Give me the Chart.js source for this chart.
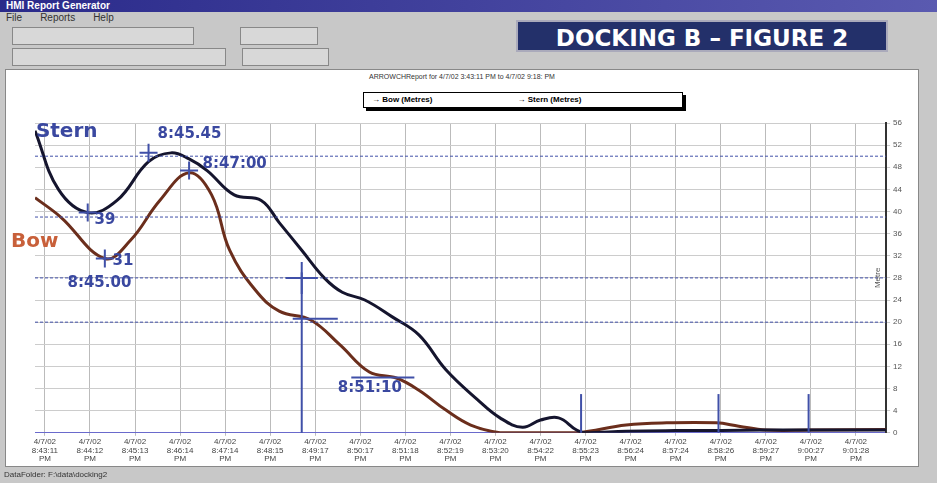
<!DOCTYPE html>
<html>
<head>
<meta charset="utf-8">
<script src="https://cdn.jsdelivr.net/npm/chart.js@4"></script>
<style>
  body { margin: 0; width: 937px; height: 483px; background: #c8c8c8; font-family: "Liberation Sans", Arial, sans-serif; overflow: hidden; position: relative; }
  #titlebar { position: absolute; left: 0; top: 0; width: 937px; height: 12px; background: linear-gradient(90deg, #2a2a8a, #5a5ab0); color: #fff; font-size: 10px; font-weight: bold; line-height: 12px; padding-left: 6px; box-sizing: border-box; }
  #menu { position: absolute; left: 0; top: 12px; width: 937px; height: 12px; font-size: 10px; color: #333; padding-left: 6px; }
  #menu span { margin-right: 18px; }
  #banner { position: absolute; left: 516px; top: 20px; width: 372px; height: 32px; background: #23306a; color: #fff; font-weight: bold; font-size: 23px; line-height: 32px; text-align: center; font-family: "DejaVu Sans", sans-serif; border: 2px solid #aab; box-sizing: border-box; }
  .tb { position: absolute; height: 16px; background: #d8d8d8; border: 1px solid #888; }
  #panel { position: absolute; left: 5px; top: 69px; width: 912px; height: 396px; background: #fff; border: 1px solid #888; }
  #sub { position: absolute; left: 0; top: 3px; width: 912px; text-align: center; font-size: 7px; color: #333; }
  #legend { position: absolute; left: 357px; top: 22px; width: 318px; height: 14px; border: 1px solid #000; box-shadow: 3px 3px 0 #000; font-size: 8px; font-weight: bold; line-height: 14px; background: #fff; }
  #status { position: absolute; left: 4px; top: 470px; font-size: 8px; color: #333; }
  #chart { position: absolute; left: 0; top: 0; }
</style>
</head>
<body>
<div id="titlebar">HMI Report Generator</div>
<div id="menu"><span>File</span><span>Reports</span><span>Help</span></div>
<div class="tb" style="left:12px;top:27px;width:180px"></div>
<div class="tb" style="left:240px;top:27px;width:76px"></div>
<div class="tb" style="left:12px;top:48px;width:212px"></div>
<div class="tb" style="left:242px;top:48px;width:85px"></div>
<div id="banner">DOCKING B – FIGURE 2</div>
<div id="panel">
  <div id="sub">ARROWCHReport for 4/7/02 3:43:11 PM to 4/7/02 9:18: PM</div>
  <div id="legend"><span style="margin-left:8px">→ Bow (Metres)</span><span style="margin-left:85px">→ Stern (Metres)</span></div>
</div>
<canvas id="chart" width="937" height="483"></canvas>
<div id="status">DataFolder: F:\data\docking2</div>
<script>
const tickDates = ["4/7/02"];
const tickTimes = ["8:43:11","8:44:12","8:45:13","8:46:14","8:47:14","8:48:15","8:49:17","8:50:17","8:51:18","8:52:19","8:53:20","8:54:22","8:55:23","8:56:24","8:57:24","8:58:26","8:59:27","9:00:27","9:01:28"];

// x = position in label intervals (0 = 8:43:11), y = metres
const sternX = [-0.22,0.3,0.95,1.6,2.3,2.8,3.2,3.6,4.2,4.8,5.2,5.7,6.2,6.6,7.1,7.7,8.3,8.9,9.6,10.1,10.6,11.0,11.4,11.8,12.0,12.9,14,15,16,17,18.67];
const sternY = [54.6,44,39.8,42,49,50.6,49.5,47.4,43,42,38,33,28,25.4,24,21,17.7,11.4,6,2.7,1,2.3,2.7,0.5,0,0.3,0.4,0.4,0.5,0.5,0.5];
const bowX = [-0.22,0.35,1.33,1.9,2.55,3.2,3.7,4.1,4.67,5.2,5.9,6.55,7.2,7.8,8.3,8.9,9.45,10.1,10.7,11.8,12.9,13.8,14.9,15.4,16,17,18.67];
const bowY = [42.5,39,31.5,34.8,42,47,43,33,25.8,22,20.4,15.9,11,9.9,7.7,4.1,1.4,0,0,0,1.4,1.8,1.8,1.2,0.5,0.5,0.6];

const hLines = [50, 39, 28, 20];
const vFull = [5.7];
const vShort = [11.9, 14.95, 16.95];
const crosses = [[0.95,39.8],[1.33,31.5],[2.3,50.6],[3.2,47.4],[5.7,28]];
const notes = [["Stern",-0.2,54.5,20],["Bow",-0.75,34.5,20],["8:45.45",2.5,54,15],["8:47:00",3.5,48.5,15],["39",1.1,38.5,15],["31",1.5,31,15],["8:45.00",0.5,27,15],["8:51:10",6.5,8,15]];

const pts = (xs, ys) => xs.map((x, i) => ({ x: x, y: ys[i] }));

const marks = {
  id: "marks",
  afterDatasetsDraw(chart) {
    const { ctx, scales: { x, y }, chartArea: a } = chart;
    ctx.save();
    ctx.strokeStyle = "#4050a8";
    ctx.setLineDash([3, 2]);
    ctx.lineWidth = 1;
    hLines.forEach(v => { ctx.beginPath(); ctx.moveTo(a.left, y.getPixelForValue(v)); ctx.lineTo(a.right, y.getPixelForValue(v)); ctx.stroke(); });
    ctx.setLineDash([]);
    ctx.lineWidth = 2;
    vFull.forEach(v => { ctx.beginPath(); ctx.moveTo(x.getPixelForValue(v), y.getPixelForValue(29)); ctx.lineTo(x.getPixelForValue(v), a.bottom); ctx.stroke(); });
    vShort.forEach(v => { ctx.beginPath(); ctx.moveTo(x.getPixelForValue(v), y.getPixelForValue(7)); ctx.lineTo(x.getPixelForValue(v), a.bottom); ctx.stroke(); });
    crosses.forEach(([cx, cy], i) => {
      const px = x.getPixelForValue(cx), py = y.getPixelForValue(cy), r = i === 4 ? 16 : 9;
      ctx.beginPath(); ctx.moveTo(px - r, py); ctx.lineTo(px + r, py); ctx.moveTo(px, py - r); ctx.lineTo(px, py + r); ctx.stroke();
    });
    ctx.beginPath(); ctx.moveTo(x.getPixelForValue(5.5), y.getPixelForValue(20.6)); ctx.lineTo(x.getPixelForValue(6.5), y.getPixelForValue(20.6)); ctx.stroke();
    ctx.beginPath(); ctx.moveTo(x.getPixelForValue(6.8), y.getPixelForValue(10)); ctx.lineTo(x.getPixelForValue(8.2), y.getPixelForValue(10)); ctx.stroke();
    ctx.textBaseline = "middle";
    notes.forEach(([t, nx, ny, fs]) => {
      ctx.font = "bold " + fs + "px 'DejaVu Sans', sans-serif";
      ctx.fillStyle = t === "Bow" ? "#c8603a" : "#3a48a0";
      ctx.fillText(t, x.getPixelForValue(nx), y.getPixelForValue(ny));
    });
    ctx.fillStyle = "#555";
    ctx.font = "8px 'Liberation Sans', sans-serif";
    ctx.translate(a.right - 8, y.getPixelForValue(28));
    ctx.rotate(-Math.PI / 2);
    ctx.textAlign = "center";
    ctx.fillText("Metre", 0, 0);
    ctx.restore();
  }
};

new Chart(document.getElementById("chart"), {
  type: "line",
  data: {
    datasets: [
      { label: "Stern (Metres)", data: pts(sternX, sternY), borderColor: "#15152e", borderWidth: 3, pointRadius: 0, tension: 0.4 },
      { label: "Bow (Metres)", data: pts(bowX, bowY), borderColor: "#6b2e1c", borderWidth: 3, pointRadius: 0, tension: 0.4 }
    ]
  },
  options: {
    responsive: false,
    animation: false,
    layout: { padding: { left: 35, right: 32, top: 123, bottom: 18 } },
    plugins: { legend: { display: false }, tooltip: { enabled: false } },
    scales: {
      x: {
        type: "linear", min: -0.22, max: 18.67,
        afterBuildTicks: s => { s.ticks = tickTimes.map((t, i) => ({ value: i })); },
        ticks: { autoSkip: false, maxRotation: 0, padding: 2, color: "#444", font: { size: 8, lineHeight: 1.05 }, callback: (v) => [tickDates[0], tickTimes[v], "PM"] },
        grid: { color: "#bbb", tickLength: 3 },
        border: { color: "#6a6acc", width: 1 }
      },
      y: {
        position: "right", min: 0, max: 56,
        ticks: { stepSize: 2, color: "#555", font: { size: 8 }, padding: 3 },
        grid: { color: "#ccc", tickLength: 4 },
        border: { color: "#333", width: 2 }
      }
    }
  },
  plugins: [marks]
});
</script>
</body>
</html>
